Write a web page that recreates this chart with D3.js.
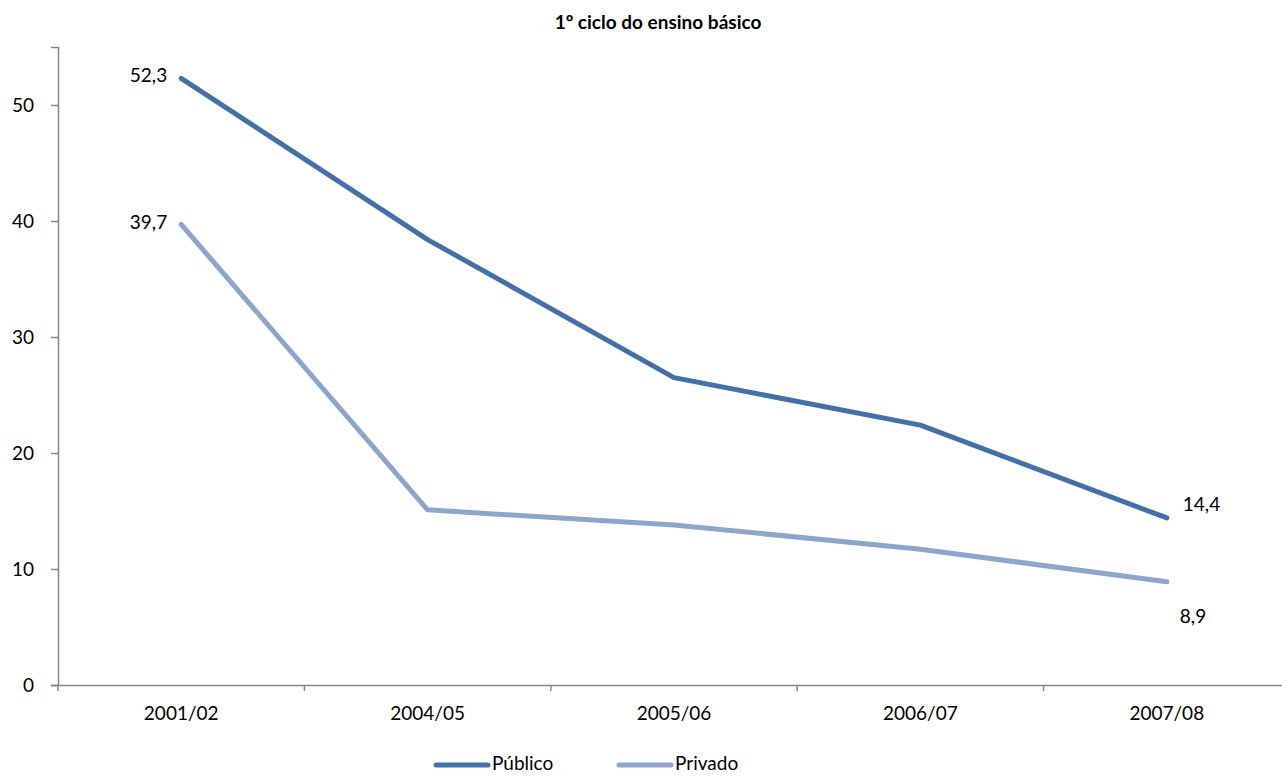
<!DOCTYPE html>
<html><head><meta charset="utf-8">
<script src="https://cdn.jsdelivr.net/npm/d3@7"></script>
<style>body{margin:0;background:#fff}svg{display:block;font-family:Lato,"Open Sans",sans-serif}</style>
</head><body><svg id="c" width="1282" height="776"></svg>
<script>
const categories = ["2001/02","2004/05","2005/06","2006/07","2007/08"];
const publico = [52.3, 38.4, 26.5, 22.4, 14.4];
const privado = [39.7, 15.1, 13.8, 11.7, 8.9];
const yTicks = [0,10,20,30,40,50];
const seriesNames = ["Público","Privado"];
const colors = ["#4470a8","#8da5cd"];

const FS = 19;
const svg = d3.select("#c");
const x = d3.scaleBand().domain(categories).range([58,1290]);
const y = d3.scaleLinear().domain([0,55]).range([685,47]);
const axisColor = "#868686";

svg.append("text").attr("x",658).attr("y",24).attr("text-anchor","middle")
  .attr("dominant-baseline","middle")
  .attr("font-weight","bold").attr("font-size",19).text("1º ciclo do ensino básico");

// y axis
const ya = svg.append("g").attr("transform","translate(58,0)")
  .call(d3.axisLeft(y).tickValues(yTicks).tickSize(7).tickPadding(17).tickFormat(d3.format("d")));
ya.select(".domain").attr("stroke",axisColor).attr("stroke-width",1.5);
ya.selectAll(".tick line").attr("stroke",axisColor).attr("stroke-width",1.5);
ya.selectAll(".tick text").attr("font-size",FS).attr("fill","#000").attr("font-family","Lato,sans-serif");

// x axis
const xa = svg.append("g").attr("transform","translate(0,685)")
  .call(d3.axisBottom(x).tickSize(0).tickPadding(22));
xa.select(".domain").attr("stroke",axisColor).attr("stroke-width",1.5);
xa.selectAll(".tick text").attr("font-size",FS).attr("fill","#000").attr("font-family","Lato,sans-serif");
// category boundary ticks
const bounds = categories.map(c=>x(c));
svg.append("g").selectAll("line").data(bounds).join("line")
  .attr("x1",d=>d).attr("x2",d=>d).attr("y1",685).attr("y2",691)
  .attr("stroke",axisColor).attr("stroke-width",1.5);

const line = d3.line().x((d,i)=>x(categories[i])+x.bandwidth()/2).y(d=>y(d));
[publico,privado].forEach((s,k)=>{
  svg.append("path").datum(s).attr("d",line).attr("fill","none")
    .attr("stroke",colors[k]).attr("stroke-width",5).attr("stroke-linecap","round").attr("stroke-linejoin","round");
});

const cx = i => x(categories[i])+x.bandwidth()/2;
function lab(txt,xx,yy,anchor){
  svg.append("text").attr("x",xx).attr("y",yy).attr("text-anchor",anchor)
    .attr("dominant-baseline","middle").attr("font-size",FS).text(txt);
}
const fmt = v => String(v).replace(".",",");
lab(fmt(publico[0]), cx(0)-14, y(publico[0])-1, "end");
lab(fmt(privado[0]), cx(0)-14, y(privado[0]), "end");
lab(fmt(publico[4]), cx(4)+16, y(publico[4])-12, "start");
lab(fmt(privado[4]), cx(4)+13, y(privado[4])+36, "start");

// legend
const lg = [{x:434},{x:617}];
lg.forEach((p,k)=>{
  svg.append("line").attr("x1",p.x+2).attr("x2",p.x+54).attr("y1",765).attr("y2",765)
    .attr("stroke",colors[k]).attr("stroke-width",5).attr("stroke-linecap","round");
  svg.append("text").attr("x",p.x+58).attr("y",765).attr("dominant-baseline","middle")
    .attr("font-size",FS).text(seriesNames[k]);
});
</script></body></html>
